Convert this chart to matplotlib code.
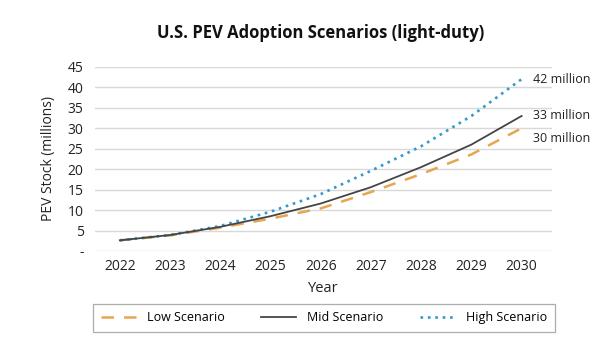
import matplotlib
matplotlib.use("Agg")
import matplotlib.pyplot as plt
from matplotlib.lines import Line2D

years = [2022, 2023, 2024, 2025, 2026, 2027, 2028, 2029, 2030]
low = [2.6, 3.8, 5.7, 7.9, 10.4, 14.4, 18.8, 23.6, 30.0]
mid = [2.6, 3.9, 5.9, 8.5, 11.6, 15.6, 20.5, 26.0, 33.0]
high = [2.6, 3.9, 6.1, 9.6, 13.9, 19.6, 25.6, 33.0, 42.0]
end_labels = ["30 million", "33 million", "42 million"]
yticks = [0, 5, 10, 15, 20, 25, 30, 35, 40, 45]
ytick_labels = ["-", "5", "10", "15", "20", "25", "30", "35", "40", "45"]

plt.rcParams['font.family'] = ['Open Sans', 'DejaVu Sans']

fig = plt.figure(figsize=(6.11, 3.52), dpi=100)
ax = fig.add_axes([0.155, 0.287, 0.748, 0.523])

c_low = '#E8A550'
c_mid = '#454545'
c_high = '#3399CC'

ax.plot(years, low, color=c_low, lw=1.8, dashes=(5, 4), label='Low Scenario', zorder=3)
ax.plot(years, mid, color=c_mid, lw=1.3, label='Mid Scenario', zorder=4)
ax.plot(years, high, color=c_high, lw=1.9, linestyle=(0, (1, 1.8)), label='High Scenario', zorder=3)

ax.set_xlim(2021.5, 2030.6)
ax.set_ylim(0, 45)
ax.set_yticks(yticks)
ax.set_yticklabels(ytick_labels)
ax.set_xticks(years)
ax.tick_params(axis='both', length=0, labelsize=10, colors='#222222')
ax.tick_params(axis='y', pad=8)
ax.tick_params(axis='x', pad=6)
ax.grid(axis='y', color='#d8d8d8', lw=1)
ax.set_axisbelow(True)
for s in ax.spines.values():
    s.set_visible(False)

label_offsets = [-2.6, 0.0, 0.0]
for val, lab, off in zip([low[-1], mid[-1], high[-1]], end_labels, label_offsets):
    ax.text(2030.22, val + off, lab,
            fontsize=9, color='#222222', va='center', ha='left', clip_on=False)

fig.text(0.525, 0.905, 'U.S. PEV Adoption Scenarios (light-duty)', ha='center', va='center',
         fontsize=12, fontweight='bold', color='#111111')
ax.set_ylabel('PEV Stock (millions)', fontsize=10, color='#222222', labelpad=8)
ax.set_xlabel('Year', fontsize=10.5, color='#222222', labelpad=5)

handles = [Line2D([], [], color=c_low, lw=1.8, dashes=(5, 4)),
           Line2D([], [], color=c_mid, lw=1.3),
           Line2D([], [], color=c_high, lw=1.9, linestyle=(0, (1, 1.8)))]
leg = fig.legend(handles, ['Low Scenario', 'Mid Scenario', 'High Scenario'],
                 loc='center', bbox_to_anchor=(0.53, 0.097), ncol=3, frameon=True,
                 fancybox=False, edgecolor='#999999', fontsize=9, handlelength=2.8,
                 columnspacing=2.9, borderpad=0.6, handletextpad=0.9)
leg.get_frame().set_linewidth(0.9)

fig.savefig('out.png', dpi=100)
